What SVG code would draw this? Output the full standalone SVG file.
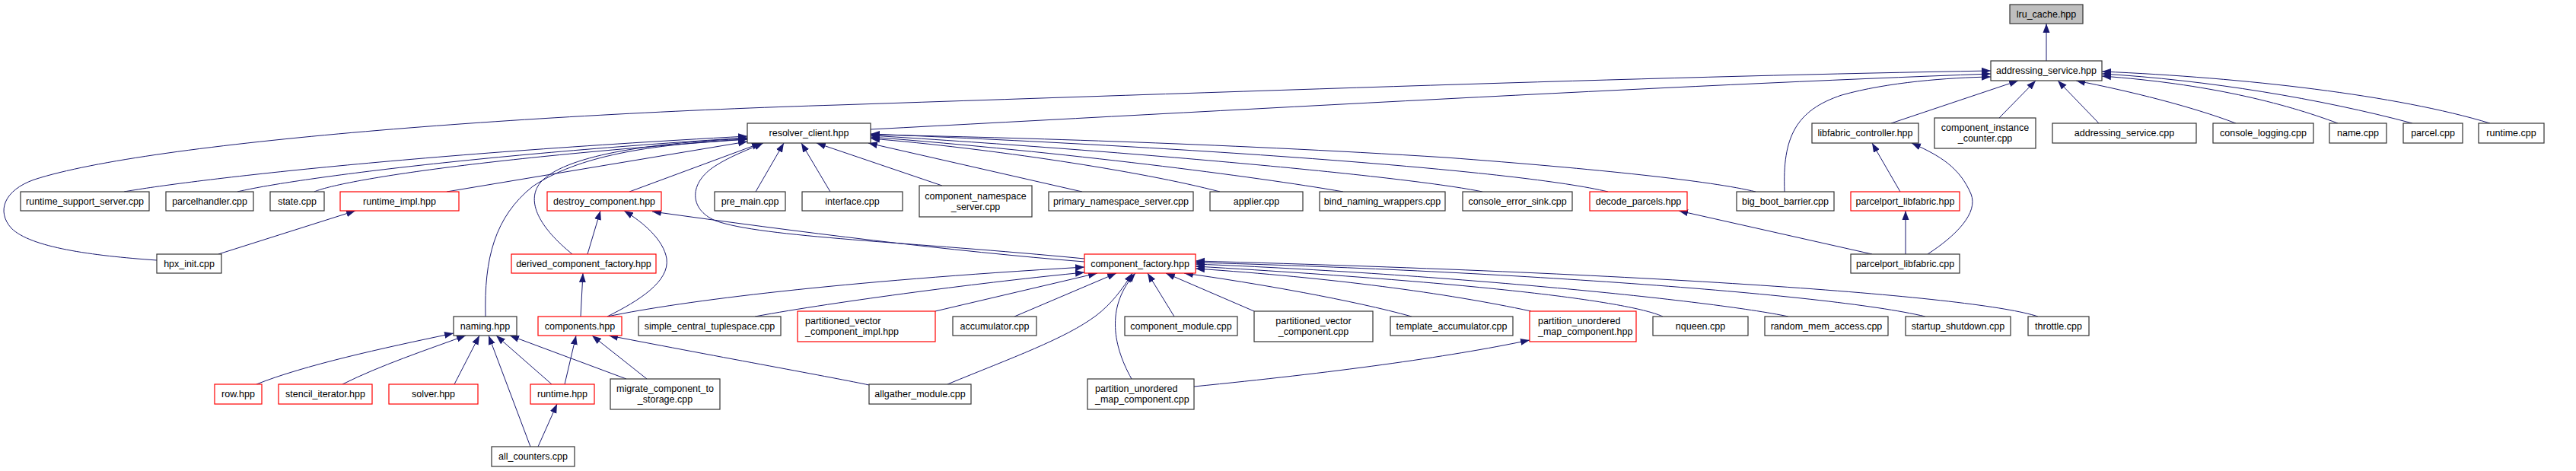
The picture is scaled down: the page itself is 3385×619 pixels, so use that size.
<svg xmlns="http://www.w3.org/2000/svg" width="3385" height="619" viewBox="0 0 3385 619">
<style>
rect{fill:#fff;stroke:#333;stroke-width:1.2}
rect.red{stroke:#f00}
rect.root{fill:#bfbfbf}
text{font-family:"Liberation Sans",Arial,sans-serif;font-size:12.5px;fill:#000;text-anchor:middle}
text.l{text-anchor:start}
#edges path{fill:none;stroke:#191970;stroke-width:1;marker-end:url(#a)}
</style>
<defs>
<marker id="a" markerWidth="12" markerHeight="10" refX="12" refY="5" orient="auto" markerUnits="userSpaceOnUse" viewBox="0 0 12 10">
<path d="M0,0.5 L12,5 L0,9.5 z" fill="#191970"/>
</marker>
</defs>
<rect x="0" y="0" width="3385" height="619" style="fill:#fff;stroke:none"/>
<g id="edges">
<path d="M2689,80 L2689,31"/>
<path d="M1144,170 C1600,146 2200,112 2616,97"/>
<path d="M206,342 C120,336 40,325 15,300 C-5,278 5,250 45,236 C200,186 700,150 1100,138 C1700,118 2200,100 2616,93"/>
<path d="M2345,252 C2342,180 2360,145 2420,125 C2480,108 2560,102 2616,101"/>
<path d="M2307,252 C2250,238 2100,222 1900,207 C1600,188 1300,180 1144,177"/>
<path d="M163,252 C230,240 500,205 982,179"/>
<path d="M312,252 C370,238 600,205 982,181"/>
<path d="M413,252 C440,240 600,210 982,183"/>
<path d="M587,252 L982,186"/>
<path d="M638,416 C636,340 650,285 700,245 C760,205 850,190 982,183"/>
<path d="M752,334 C710,300 690,265 710,240 C740,205 850,188 982,182"/>
<path d="M827,252 L1000,188"/>
<path d="M1425,340 C1200,318 1000,312 940,290 C905,275 905,240 940,218 C960,205 985,196 1003,188"/>
<path d="M1425,344 C1250,330 1050,305 857,278"/>
<path d="M993,252 L1030,188"/>
<path d="M1091,252 L1053,188"/>
<path d="M1238,244 L1073,188"/>
<path d="M1422,252 L1141,188"/>
<path d="M1603,252 C1500,225 1300,195 1144,182"/>
<path d="M1765,252 C1650,232 1400,200 1144,180"/>
<path d="M1948,252 C1850,232 1500,200 1144,178"/>
<path d="M2113,252 C2000,225 1600,195 1144,176"/>
<path d="M2485,162 L2652,106"/>
<path d="M2627,155 L2675,106"/>
<path d="M2758,162 L2704,106"/>
<path d="M2938,162 C2880,140 2800,120 2728,106"/>
<path d="M3072,162 C3000,135 2900,110 2762,100"/>
<path d="M3170,162 C3050,130 2900,105 2762,97"/>
<path d="M3272,162 C3150,125 2950,102 2762,94"/>
<path d="M798,416 C900,395 1100,370 1425,351"/>
<path d="M992,416 C1100,396 1300,370 1425,358"/>
<path d="M1229,409 L1442,359"/>
<path d="M1333,416 L1467,359"/>
<path d="M1245,505 C1330,470 1400,445 1440,415 C1460,400 1475,380 1488,359"/>
<path d="M1487,498 C1460,450 1455,400 1492,359"/>
<path d="M1543,416 L1508,359"/>
<path d="M1648,409 L1532,359"/>
<path d="M1855,416 C1780,395 1650,372 1556,359"/>
<path d="M2012,409 C1900,385 1750,365 1571,353"/>
<path d="M2185,416 C2150,400 2000,375 1571,350"/>
<path d="M2350,416 C2250,395 1900,360 1571,347"/>
<path d="M2530,416 C2400,385 1950,355 1571,345"/>
<path d="M2678,416 C2600,390 2200,360 1571,343"/>
<path d="M1569,508 C1750,490 1900,470 2010,447"/>
<path d="M742,505 L757,441"/>
<path d="M850,498 L778,441"/>
<path d="M1142,506 C1100,497 950,470 800,441"/>
<path d="M763,416 L766,359"/>
<path d="M772,334 L789,277"/>
<path d="M798,416 C840,395 880,370 876,340 C872,315 845,292 820,277"/>
<path d="M337,505 C400,480 500,458 596,438"/>
<path d="M450,505 C500,480 560,460 612,441"/>
<path d="M597,505 L630,441"/>
<path d="M697,587 L642,441"/>
<path d="M725,505 L652,441"/>
<path d="M823,498 L670,441"/>
<path d="M707,587 L732,531"/>
<path d="M287,334 L467,277"/>
<path d="M2460,334 L2206,277"/>
<path d="M2504,334 L2504,277"/>
<path d="M2497,252 L2460,188"/>
<path d="M2533,334 C2570,310 2600,280 2590,255 C2575,220 2550,205 2512,188"/>
</g>
<g id="n_lru_cache"><rect class="root" x="2641" y="6" width="96" height="25"/><text x="2689" y="23">lru_cache.hpp</text></g>
<g id="n_addressing_service_hpp"><rect x="2616" y="80" width="146" height="26"/><text x="2689" y="97">addressing_service.hpp</text></g>
<g id="n_resolver_client"><rect x="982" y="162" width="162" height="26"/><text x="1063" y="179">resolver_client.hpp</text></g>
<g id="n_libfabric_controller"><rect x="2381" y="162" width="140" height="26"/><text x="2451" y="179">libfabric_controller.hpp</text></g>
<g id="n_component_instance_counter"><rect x="2542" y="155" width="133" height="40"/><text x="2608.5" y="172">component_instance</text><text x="2608.5" y="186">_counter.cpp</text></g>
<g id="n_addressing_service_cpp"><rect x="2697" y="162" width="189" height="26"/><text x="2791.5" y="179">addressing_service.cpp</text></g>
<g id="n_console_logging"><rect x="2908" y="162" width="132" height="26"/><text x="2974" y="179">console_logging.cpp</text></g>
<g id="n_name"><rect x="3061" y="162" width="75" height="26"/><text x="3098.5" y="179">name.cpp</text></g>
<g id="n_parcel"><rect x="3158" y="162" width="78" height="26"/><text x="3197" y="179">parcel.cpp</text></g>
<g id="n_runtime_cpp"><rect x="3257" y="162" width="86" height="26"/><text x="3300" y="179">runtime.cpp</text></g>
<g id="n_runtime_support_server"><rect x="27" y="252" width="169" height="25"/><text x="111.5" y="269">runtime_support_server.cpp</text></g>
<g id="n_parcelhandler"><rect x="218" y="252" width="115" height="25"/><text x="275.5" y="269">parcelhandler.cpp</text></g>
<g id="n_state"><rect x="355" y="252" width="71" height="25"/><text x="390.5" y="269">state.cpp</text></g>
<g id="n_runtime_impl"><rect class="red" x="447" y="252" width="156" height="25"/><text x="525" y="269">runtime_impl.hpp</text></g>
<g id="n_destroy_component"><rect class="red" x="719" y="252" width="150" height="25"/><text x="794" y="269">destroy_component.hpp</text></g>
<g id="n_pre_main"><rect x="939" y="252" width="93" height="25"/><text x="985.5" y="269">pre_main.cpp</text></g>
<g id="n_interface"><rect x="1054" y="252" width="132" height="25"/><text x="1120" y="269">interface.cpp</text></g>
<g id="n_component_namespace_server"><rect x="1208" y="244" width="148" height="41"/><text x="1282" y="261.5">component_namespace</text><text x="1282" y="275.5">_server.cpp</text></g>
<g id="n_primary_namespace_server"><rect x="1378" y="252" width="190" height="25"/><text x="1473" y="269">primary_namespace_server.cpp</text></g>
<g id="n_applier"><rect x="1590" y="252" width="122" height="25"/><text x="1651" y="269">applier.cpp</text></g>
<g id="n_bind_naming_wrappers"><rect x="1734" y="252" width="165" height="25"/><text x="1816.5" y="269">bind_naming_wrappers.cpp</text></g>
<g id="n_console_error_sink"><rect x="1922" y="252" width="144" height="25"/><text x="1994" y="269">console_error_sink.cpp</text></g>
<g id="n_decode_parcels"><rect class="red" x="2089" y="252" width="128" height="25"/><text x="2153" y="269">decode_parcels.hpp</text></g>
<g id="n_big_boot_barrier"><rect x="2282" y="252" width="128" height="25"/><text x="2346" y="269">big_boot_barrier.cpp</text></g>
<g id="n_parcelport_libfabric_hpp"><rect class="red" x="2432" y="252" width="143" height="25"/><text x="2503.5" y="269">parcelport_libfabric.hpp</text></g>
<g id="n_hpx_init"><rect x="206" y="334" width="85" height="25"/><text x="248.5" y="351">hpx_init.cpp</text></g>
<g id="n_derived_component_factory"><rect class="red" x="672" y="334" width="190" height="25"/><text x="767" y="351">derived_component_factory.hpp</text></g>
<g id="n_component_factory"><rect class="red" x="1425" y="334" width="146" height="25"/><text x="1498" y="351">component_factory.hpp</text></g>
<g id="n_parcelport_libfabric_cpp"><rect x="2432" y="334" width="143" height="25"/><text x="2503.5" y="351">parcelport_libfabric.cpp</text></g>
<g id="n_naming"><rect x="596" y="416" width="83" height="25"/><text x="637.5" y="433">naming.hpp</text></g>
<g id="n_components"><rect class="red" x="707" y="416" width="110" height="25"/><text x="762" y="433">components.hpp</text></g>
<g id="n_simple_central_tuplespace"><rect x="839" y="416" width="187" height="25"/><text x="932.5" y="433">simple_central_tuplespace.cpp</text></g>
<g id="n_partitioned_vector_component_impl"><rect class="red" x="1048" y="409" width="181" height="40"/><text class="l" x="1058" y="426">partitioned_vector</text><text class="l" x="1058" y="440">_component_impl.hpp</text></g>
<g id="n_accumulator"><rect x="1252" y="416" width="110" height="25"/><text x="1307" y="433">accumulator.cpp</text></g>
<g id="n_component_module"><rect x="1478" y="416" width="148" height="25"/><text x="1552" y="433">component_module.cpp</text></g>
<g id="n_partitioned_vector_component"><rect x="1648" y="409" width="156" height="40"/><text x="1726" y="426">partitioned_vector</text><text x="1726" y="440">_component.cpp</text></g>
<g id="n_template_accumulator"><rect x="1827" y="416" width="161" height="25"/><text x="1907.5" y="433">template_accumulator.cpp</text></g>
<g id="n_partition_unordered_map_component_hpp"><rect class="red" x="2010" y="409" width="140" height="40"/><text class="l" x="2021" y="426">partition_unordered</text><text class="l" x="2021" y="440">_map_component.hpp</text></g>
<g id="n_nqueen"><rect x="2172" y="416" width="125" height="25"/><text x="2234.5" y="433">nqueen.cpp</text></g>
<g id="n_random_mem_access"><rect x="2319" y="416" width="162" height="25"/><text x="2400" y="433">random_mem_access.cpp</text></g>
<g id="n_startup_shutdown"><rect x="2504" y="416" width="138" height="25"/><text x="2573" y="433">startup_shutdown.cpp</text></g>
<g id="n_throttle"><rect x="2665" y="416" width="80" height="25"/><text x="2705" y="433">throttle.cpp</text></g>
<g id="n_row"><rect class="red" x="282" y="505" width="62" height="26"/><text x="313" y="522">row.hpp</text></g>
<g id="n_stencil_iterator"><rect class="red" x="366" y="505" width="123" height="26"/><text x="427.5" y="522">stencil_iterator.hpp</text></g>
<g id="n_solver"><rect class="red" x="511" y="505" width="117" height="26"/><text x="569.5" y="522">solver.hpp</text></g>
<g id="n_runtime_hpp"><rect class="red" x="697" y="505" width="84" height="26"/><text x="739" y="522">runtime.hpp</text></g>
<g id="n_migrate_component_to_storage"><rect x="802" y="498" width="144" height="40"/><text x="874" y="515">migrate_component_to</text><text x="874" y="529">_storage.cpp</text></g>
<g id="n_allgather_module"><rect x="1142" y="505" width="134" height="26"/><text x="1209" y="522">allgather_module.cpp</text></g>
<g id="n_partition_unordered_map_component_cpp"><rect x="1429" y="498" width="140" height="40"/><text class="l" x="1439" y="515">partition_unordered</text><text class="l" x="1439" y="529">_map_component.cpp</text></g>
<g id="n_all_counters"><rect x="646" y="587" width="109" height="26"/><text x="700.5" y="604">all_counters.cpp</text></g>
</svg>
